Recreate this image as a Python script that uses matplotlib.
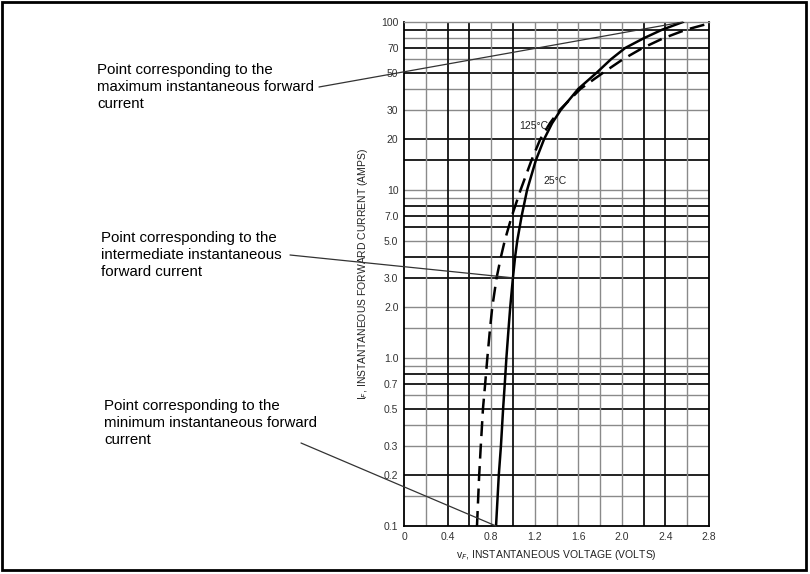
import matplotlib
matplotlib.use('Agg')
import matplotlib.pyplot as plt
from matplotlib.patches import Rectangle

plt.rcParams['font.family'] = ['Liberation Sans Narrow', 'Liberation Sans', 'DejaVu Sans']

# 25 C curve (solid)
i_25 = [0.1, 0.2, 0.3, 0.5, 0.7, 1.0, 1.5, 2.0, 3.0, 4.0, 5.0, 7.0, 10, 15, 20, 25, 30, 40, 50, 60, 70, 80, 90, 100]
v_25 = [0.845, 0.87, 0.89, 0.91, 0.925, 0.94, 0.96, 0.975, 1.0, 1.02, 1.04, 1.08, 1.13, 1.21, 1.285, 1.36, 1.44, 1.6, 1.77, 1.9, 2.03, 2.2, 2.37, 2.56]

# 125 C curve (dashed)
i_125 = [0.1, 0.2, 0.3, 0.5, 0.7, 1.0, 1.5, 2.0, 3.0, 4.0, 5.0, 7.0, 10, 15, 20, 25, 30, 40, 50, 60, 70, 80, 90, 98]
v_125 = [0.67, 0.69, 0.705, 0.725, 0.745, 0.765, 0.79, 0.81, 0.85, 0.89, 0.925, 0.99, 1.07, 1.17, 1.25, 1.34, 1.43, 1.62, 1.83, 2.01, 2.19, 2.38, 2.59, 2.8]

y_ticks = [0.1, 0.2, 0.3, 0.5, 0.7, 1, 2, 3, 5, 7, 10, 20, 30, 50, 70, 100]
y_labels = ['0.1', '0.2', '0.3', '0.5', '0.7', '1.0', '2.0', '3.0', '5.0', '7.0', '10', '20', '30', '50', '70', '100']
x_ticks = [0, 0.4, 0.8, 1.2, 1.6, 2.0, 2.4, 2.8]
x_labels = ['0', '0.4', '0.8', '1.2', '1.6', '2.0', '2.4', '2.8']

# grid lines, dark and light as in the printed sheet
h_dark = [0.2, 0.5, 0.7, 0.8, 3, 4, 6, 7, 8, 15, 20, 50, 70, 90]
h_light = [0.15, 0.3, 0.4, 0.6, 0.9, 1, 1.5, 2, 5, 9, 10, 30, 40, 60, 80]
v_dark = [0.4, 0.6, 1.0, 2.2, 2.4]
v_light = [0.2, 0.8, 1.2, 1.4, 1.6, 1.8, 2.0, 2.6]

# annotated points (volts, amps) and where the text sits
notes = [
    ['Point corresponding to the\nmaximum instantaneous forward\ncurrent', 2.56, 100],
    ['Point corresponding to the\nintermediate instantaneous\nforward current', 1.0, 3.0],
    ['Point corresponding to the\nminimum instantaneous forward\ncurrent', 0.845, 0.1],
]
note_text_px = [(97, 63), (101, 231), (104, 399)]
note_line_px = [(319, 87), (290, 255), (301, 443)]

W, H = 810, 574
fig = plt.figure(figsize=(W / 100, H / 100), dpi=100)
ax = fig.add_axes([404 / W, 1 - 526 / H, 305 / W, 504 / H])

ax.set_yscale('log')
ax.set_xlim(0, 2.8)
ax.set_ylim(0.1, 100)

for y in h_light:
    ax.axhline(y, color='#8a8a8a', lw=1.0, zorder=1)
for y in h_dark:
    ax.axhline(y, color='#111111', lw=1.3, zorder=1)
for x in v_light:
    ax.axvline(x, color='#8a8a8a', lw=1.0, zorder=1)
for x in v_dark:
    ax.axvline(x, color='#111111', lw=1.3, zorder=1)

ax.plot(v_25, i_25, color='black', lw=1.8, zorder=3)
ax.plot(v_125, i_125, color='black', lw=1.8, dashes=(6, 3), zorder=3)

ax.text(1.19, 24, '125°C', fontsize=7.5, ha='center', va='center', color='#222222')
ax.text(1.39, 11.3, '25°C', fontsize=7.5, ha='center', va='center', color='#222222')

ax.set_yticks(y_ticks)
ax.set_yticklabels(y_labels)
ax.minorticks_off()
ax.set_xticks(x_ticks)
ax.set_xticklabels(x_labels)
ax.tick_params(length=0, labelsize=7.5, colors='#333333', pad=4)

for s in ax.spines.values():
    s.set_color('black')
    s.set_linewidth(1.3)
ax.spines['top'].set_color('#8a8a8a')
ax.spines['top'].set_linewidth(1.0)

ax.set_ylabel('I$_F$, INSTANTANEOUS FORWARD CURRENT (AMPS)', fontsize=7.5, labelpad=8, color='#222222')
ax.set_xlabel('v$_F$, INSTANTANEOUS VOLTAGE (VOLTS)', fontsize=7.5, labelpad=5, color='#222222')

for (txt, vx, iy), (tx, ty), (lx, ly) in zip(notes, note_text_px, note_line_px):
    fig.text(tx / W, 1 - ty / H, txt, fontsize=10.8, va='top', ha='left',
             family=['Liberation Sans', 'DejaVu Sans'], linespacing=1.27)
    ax.annotate('', xy=(vx, iy), xycoords='data',
                xytext=(lx / W, 1 - ly / H), textcoords='figure fraction',
                arrowprops=dict(arrowstyle='-', lw=0.9, color='#333333',
                                shrinkA=0, shrinkB=0),
                annotation_clip=False, zorder=4)

fig.patches.append(Rectangle((2 / W, 4 / H), 804 / W, 568 / H, transform=fig.transFigure,
                             fill=False, edgecolor='black', lw=2))

fig.savefig('out.png', dpi=100)
